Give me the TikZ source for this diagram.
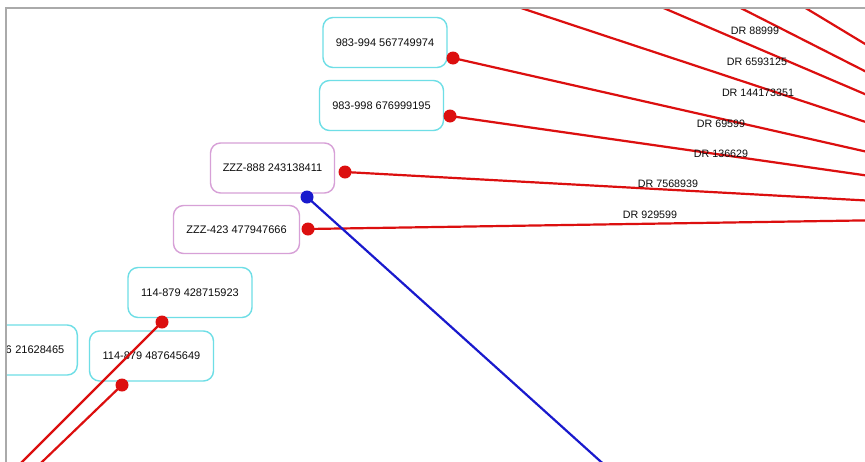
\documentclass[tikz,border=0pt]{standalone}
\usepackage{fontspec}
\setmainfont{Liberation Sans}
\definecolor{edgered}{RGB}{220,15,15}
\definecolor{edgeblue}{RGB}{25,25,205}
\definecolor{boxcyan}{RGB}{110,222,230}
\definecolor{boxpink}{RGB}{215,160,215}
\definecolor{framegray}{RGB}{170,170,170}
\tikzset{
  nbox/.style={rounded corners=10pt, draw, line width=1.4pt, fill=white,
    minimum width=124pt, minimum height=50pt, inner sep=0pt,
    font=\fontsize{11}{13}\selectfont, text=black!95},
  cyanbox/.style={nbox, draw=boxcyan},
  pinkbox/.style={nbox, draw=boxpink},
  rdot/.style={circle, fill=edgered, minimum size=13pt, inner sep=0pt},
  bdot/.style={circle, fill=edgeblue, minimum size=13pt, inner sep=0pt},
  redge/.style={draw=edgered, line width=2.2pt},
  bedge/.style={draw=edgeblue, line width=2.2pt},
  elabel/.style={font=\fontsize{10.7}{12}\selectfont, text=black!95, inner sep=0pt},
}
\begin{document}
\begin{tikzpicture}[x=1pt,y=-1pt]
\useasboundingbox (0,0) rectangle (865,461);
\fill[white] (0,0) rectangle (865,461);
\begin{scope}
\clip (6,8) rectangle (865,461);
% boxes
\node[cyanbox] (b1) at (385,42.5) {983-994 567749974};
\node[cyanbox] (b2) at (381.5,105.5) {983-998 676999195};
\node[pinkbox] (b3) at (272.5,168) {ZZZ-888 243138411};
\node[pinkbox, minimum width=126pt, minimum height=48pt] (b4) at (236.5,229.5) {ZZZ-423 477947666};
\node[cyanbox] (b5) at (190,292.5) {114-879 428715923};
\node[cyanbox] (b6) at (151.5,356) {114-879 487645649};
\node[cyanbox, anchor=east, minimum width=140pt, text width=114pt, align=right] (b7) at (78,350) {6 21628465};
% port positions
\coordinate (d1) at (453,58);
\coordinate (d2) at (450,116);
\coordinate (d3) at (345,172);
\coordinate (d3b) at (307,197);
\coordinate (d4) at (308,229);
\coordinate (d5) at (162,322);
\coordinate (d6) at (122,385);
% far ends
\coordinate (hub) at (1150,216);
\coordinate (t1) at (394,-34);
\coordinate (t2) at (570,-32);
\coordinate (t3) at (662,-32);
\coordinate (t4) at (736,-34);
\coordinate (ll1) at (-10,494);
\coordinate (ll2) at (-10,512);
\coordinate (bl) at (700,551);
% red edges
\draw[redge] (t1) -- (hub);
\draw[redge] (t2) -- (hub);
\draw[redge] (t3) -- (hub);
\draw[redge] (t4) -- (hub);
\draw[redge] (d1) -- (hub);
\draw[redge] (d2) -- (hub);
\draw[redge] (d3) -- (hub);
\draw[redge] (d4) -- (hub);
\draw[redge] (d5) -- (ll1);
\draw[redge] (d6) -- (ll2);
% blue edge
\draw[bedge] (d3b) -- (bl);
% edge labels
\node[elabel] (l1) at (755,31) {DR 88999};
\node[elabel] (l2) at (757,62) {DR 6593125};
\node[elabel] (l3) at (758,93) {DR 144173351};
\node[elabel] (l4) at (721,124) {DR 69599};
\node[elabel] (l5) at (721,154) {DR 136629};
\node[elabel] (l6) at (668,184) {DR 7568939};
\node[elabel] (l7) at (650,215) {DR 929599};
% dots
\node[rdot] (p1) at (d1) {};
\node[rdot] (p2) at (d2) {};
\node[rdot] (p3) at (d3) {};
\node[bdot] (p3b) at (d3b) {};
\node[rdot] (p4) at (d4) {};
\node[rdot] (p5) at (d5) {};
\node[rdot] (p6) at (d6) {};
\end{scope}
% frame
\draw[framegray, line width=1.5pt] (6,470) -- (6,8) -- (875,8);
\end{tikzpicture}
\end{document}
